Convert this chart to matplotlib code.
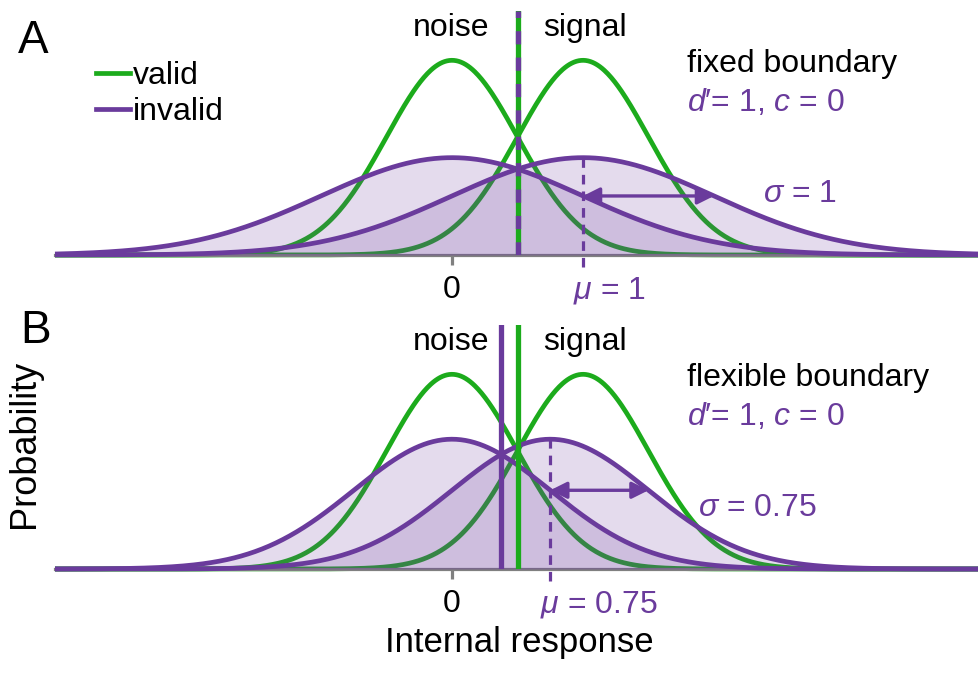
"""Signal detection sketch: valid vs invalid cue distributions, fixed and flexible boundary."""

import matplotlib

matplotlib.use("Agg")
import matplotlib.pyplot as plt  # noqa: E402
import numpy as np  # noqa: E402
from matplotlib.lines import Line2D  # noqa: E402

plt.rcParams["font.family"] = ["Liberation Sans", "DejaVu Sans"]
plt.rcParams["mathtext.fontset"] = "custom"
plt.rcParams["mathtext.rm"] = "Liberation Sans"
plt.rcParams["mathtext.it"] = "Liberation Sans:italic"

# Model parameters (internal-response units).
VALID_MEANS = [0.0, 1.0]
VALID_SD = 0.5
INVALID_MEANS_A = [0.0, 1.0]
INVALID_SD_A = 1.0
INVALID_MEANS_B = [0.0, 0.75]
INVALID_SD_B = 0.75
BOUNDARY_VALID = 0.5
BOUNDARY_A = 0.5
BOUNDARY_B = 0.375
PANEL_TITLES = ["fixed boundary", "flexible boundary"]
SIGMA_LABELS = [r"$\sigma$ = 1", r"$\sigma$ = 0.75"]
MU_LABELS = [r"$\mu$ = 1", r"$\mu$ = 0.75"]
DPRIME_LABEL = "$d$\u2032= 1, $c$ = 0"

GREEN = "#1cab1c"
PURPLE = "#6a3b9c"
GREY = "#808080"

W, H = 979, 674
PX = 244.0  # pixels per pdf unit vertically
X0, XS = 452.0, 131.0  # pixel of x=0, pixels per x unit


def pdf(x, m, s):
    return np.exp(-0.5 * ((x - m) / s) ** 2) / (s * np.sqrt(2 * np.pi))


def add_px_axes(fig, left, top, right, bottom):
    return fig.add_axes([left / W, 1 - bottom / H, (right - left) / W, (bottom - top) / H])


def fig_text(fig, x, y, s, **kw):
    fig.text(x / W, 1 - y / H, s, **kw)


def draw_panel(ax, inv_means, inv_sd, boundary, dashed_boundary):
    xlim = ((55 - X0) / XS, (W - X0) / XS)
    x = np.linspace(xlim[0], xlim[1], 800)
    ax.set_xlim(*xlim)
    ax.set_ylim(0, 1.0)
    for side in ["left", "right", "top"]:
        ax.spines[side].set_visible(False)
    ax.spines["bottom"].set_color(GREY)
    ax.spines["bottom"].set_linewidth(2.3)
    ax.set_yticks([])
    ax.set_xticks([0])
    ax.set_xticklabels(["0"])
    ax.tick_params(axis="x", length=7.5, width=2.3, color=GREY, pad=7, labelsize=23)

    for m in VALID_MEANS:
        ax.plot(x, pdf(x, m, VALID_SD), color=GREEN, lw=3.4, zorder=2, clip_on=False,
                solid_capstyle="butt")
    for m in inv_means:
        y = pdf(x, m, inv_sd)
        ax.fill_between(x, y, 0, color=PURPLE, alpha=0.18, lw=0, zorder=3)
        ax.plot(x, y, color=PURPLE, lw=3.4, zorder=4, clip_on=False, solid_capstyle="butt")

    if dashed_boundary:
        ax.axvline(boundary, color=GREEN, lw=3.8, zorder=5)
        ax.axvline(boundary, color=PURPLE, lw=3.8, zorder=6, dashes=(2.5, 2.5))
    else:
        ax.axvline(boundary, color=PURPLE, lw=3.8, zorder=5)
        ax.axvline(BOUNDARY_VALID, color=GREEN, lw=3.8, zorder=6)

    mu = inv_means[1]
    ax.plot([mu, mu], [-12 / PX, pdf(mu, mu, inv_sd)], color=PURPLE, lw=2.3,
            dashes=(3, 2.2), zorder=5, clip_on=False)
    ya = pdf(mu, inv_means[0], inv_sd)
    ax.annotate("", xy=(mu, ya), xytext=(mu + inv_sd, ya),
                arrowprops=dict(arrowstyle="<|-|>", color=PURPLE, lw=2.4,
                                mutation_scale=25, shrinkA=0, shrinkB=0),
                zorder=7)


fig = plt.figure(figsize=(W / 100, H / 100), dpi=100)
ax_a = add_px_axes(fig, 55, 11, W, 255)
ax_b = add_px_axes(fig, 55, 325, W, 569)
draw_panel(ax_a, INVALID_MEANS_A, INVALID_SD_A, BOUNDARY_A, True)
draw_panel(ax_b, INVALID_MEANS_B, INVALID_SD_B, BOUNDARY_B, False)

# Panel letters and axis titles
fig_text(fig, 18, 53, "A", fontsize=33, va="baseline")
fig_text(fig, 20, 343, "B", fontsize=33, va="baseline")
fig_text(fig, 25, 444, "Probability", fontsize=26, rotation=90, ha="center", va="center")
fig_text(fig, 519, 652, "Internal response", fontsize=25, ha="center", va="baseline")

# Legend
ax_a.legend(handles=[Line2D([], [], color=GREEN, lw=3.4), Line2D([], [], color=PURPLE, lw=3.4)],
            labels=["valid", "invalid"], loc="upper left", bbox_to_anchor=(80 / W, 1 - 45 / H),
            bbox_transform=fig.transFigure, frameon=False, fontsize=23,
            handlelength=1.05, handletextpad=0.12, labelspacing=0.2, borderpad=0)

for top, title, sig, mul, mu, inv_sd, sig_gap in [
    (0, PANEL_TITLES[0], SIGMA_LABELS[0], MU_LABELS[0], INVALID_MEANS_A[1], INVALID_SD_A, 49),
    (314, PANEL_TITLES[1], SIGMA_LABELS[1], MU_LABELS[1], INVALID_MEANS_B[1], INVALID_SD_B, 49),
]:
    fig_text(fig, 451, top + 36, "noise", fontsize=23, ha="center", va="baseline")
    fig_text(fig, 585, top + 36, "signal", fontsize=23, ha="center", va="baseline")
    fig_text(fig, 687, top + 72, title, fontsize=23, va="baseline")
    fig_text(fig, 687, top + 111, DPRIME_LABEL, fontsize=23, va="baseline", color=PURPLE)
    mu_px = X0 + XS * mu
    sig_px = mu_px + XS * inv_sd + sig_gap
    fig_text(fig, sig_px, top + 202, sig, fontsize=23, va="baseline", color=PURPLE)
    fig_text(fig, mu_px - 10, top + 298, mul, fontsize=23, va="baseline", color=PURPLE)

fig.savefig("out.png", dpi=100)
